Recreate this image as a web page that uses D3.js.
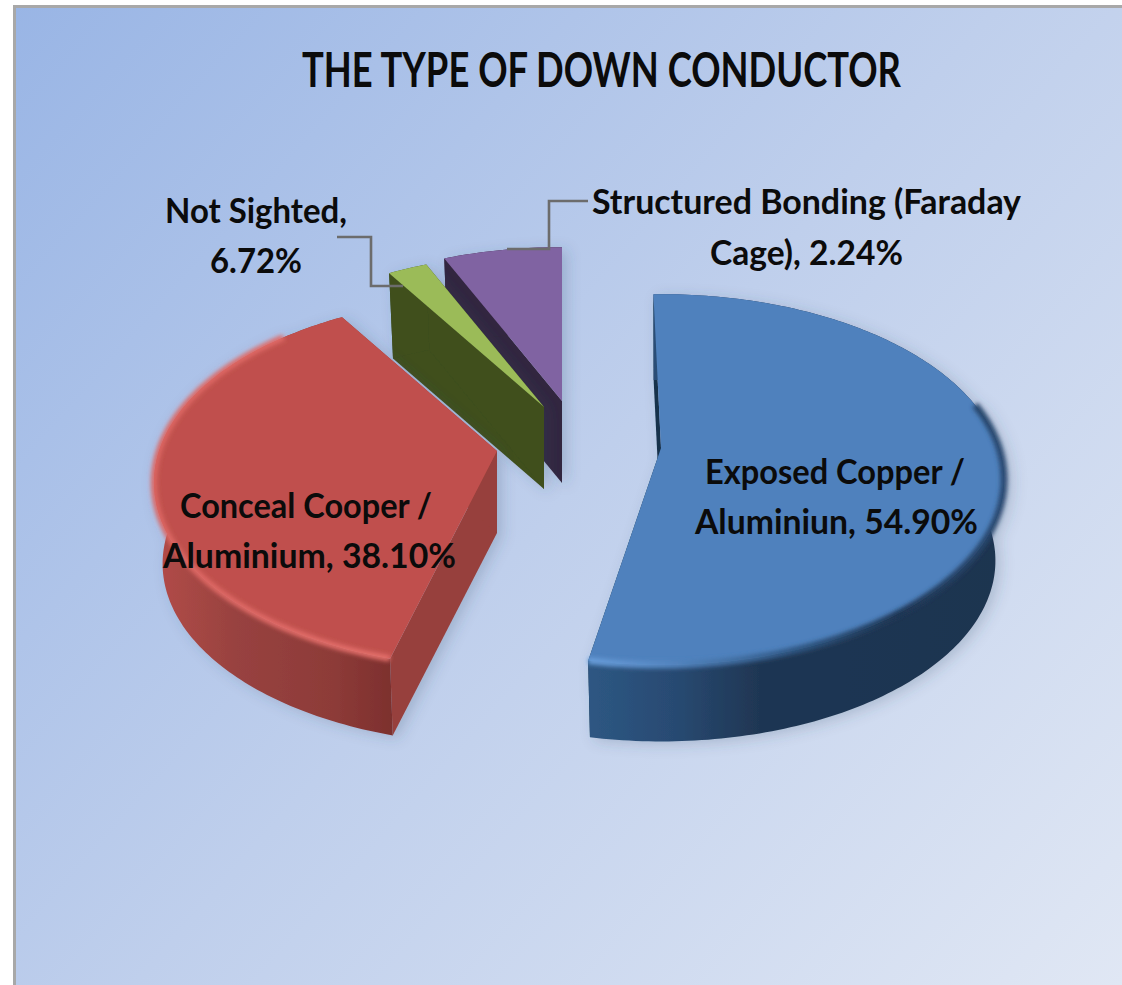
<!DOCTYPE html>
<html><head><meta charset="utf-8">
<script src="https://cdn.jsdelivr.net/npm/d3@7"></script>
<style>html,body{margin:0;padding:0;background:#fff}svg{display:block}</style>
</head><body><div id="c"></div>
<script>
// Data, in drawing order of the pie (clockwise from 12 o'clock)
const categories = ["Exposed Copper / Aluminiun","Conceal Cooper / Aluminium","Not Sighted","Structured Bonding (Faraday Cage)"];
const values = [54.90,38.10,6.72,2.24];
// the wedge sizes in the picture: the smaller wedge carries the "Not Sighted" leader
const wedgeValues = [54.90,38.10,2.24,6.72];
const topColors = ["#4f81bd","#c0504d","#9bbb59","#8064a2"];
const wallColors = ["#16304c","#97403c","#3f4f1f","#33263f"];
const apexes = [[661,448],[497,451],[544,407],[562,401]];
const angleNudges = [[-1.5,-3.5],[1.5,0],[0,0],[0,0]];
const titleText = "THE TYPE OF DOWN CONDUCTOR";

const W=1122,H=985;
const R=338,A=180,K=0.17,DEPTH=82,BOTTOM_SCALE=0.975;
const svg=d3.select("#c").append("svg").attr("width",W).attr("height",H);
const defs=svg.append("defs");

function lin(id,x1,y1,x2,y2,stops){
  const g=defs.append("linearGradient").attr("id",id).attr("gradientUnits","userSpaceOnUse")
    .attr("x1",x1).attr("y1",y1).attr("x2",x2).attr("y2",y2);
  stops.forEach(s=>g.append("stop").attr("offset",s[0]).attr("stop-color",s[1]));
}
lin("bg",13,5,1122,985,[[0,"#99b5e5"],[0.5,"#bfcfec"],[1,"#e0e7f4"]]);
lin("wall0",582,0,1005,0,[[0,"#2e5884"],[0.22,"#284a72"],[0.42,"#1f3653"],[1,"#1e3450"]]);
lin("wall1",150,0,395,0,[[0,"#b44c48"],[0.35,"#984240"],[0.75,"#8d3b38"],[1,"#7c2f2d"]]);
lin("rim0",582,0,1005,0,[[0,"#6a9fdc"],[0.2,"#5587c2"],[0.5,"#2f5783"],[0.75,"#1f3755"],[1,"#2a4a72"]]);
lin("rim1",150,0,395,0,[[0,"#dc6662"],[1,"#e4706c"]]);
const blur=defs.append("filter").attr("id","soft").attr("x","-10%").attr("y","-10%").attr("width","120%").attr("height","120%");
blur.append("feGaussianBlur").attr("stdDeviation",2.2);
const sh=defs.append("filter").attr("id","shadow").attr("x","-20%").attr("y","-20%").attr("width","140%").attr("height","140%");
sh.append("feDropShadow").attr("dx",5).attr("dy",3).attr("stdDeviation",7).attr("flood-color","#3a4a66").attr("flood-opacity",0.22);

svg.append("rect").attr("x",14.5).attr("y",6.5).attr("width",W).attr("height",H)
  .attr("fill","url(#bg)").attr("stroke","#a8a8a8").attr("stroke-width",3);

const arcs=d3.pie().sort(null).value(d=>d)(wedgeValues).map((a,i)=>({
  i,start:a.startAngle+angleNudges[i][0]*Math.PI/180,end:a.endAngle+angleNudges[i][1]*Math.PI/180
}));
const line=d3.line();

function rim(i,t,low){
  const u=Math.sin(t),v=Math.cos(t),d=1+K*v,[ax,ay]=apexes[i];
  const s=low?BOTTOM_SCALE:1;
  return [ax+s*R*u/d, ay-s*A*v/d+(low?DEPTH:0)];
}
function arcPts(i,a,b,low){
  const n=Math.max(8,Math.ceil(Math.abs(b-a)*60));
  return d3.range(n+1).map(k=>rim(i,a+(b-a)*k/n,low));
}
const layer=svg.append("g");
[3,2,1,0].forEach(i=>{
  const a=arcs[i],[ax,ay]=apexes[i];
  const g=layer.append("g").attr("filter","url(#shadow)");
  const wallFill=i<2?`url(#wall${i})`:wallColors[i];
  const lowApex=[ax,ay+DEPTH];
  // cut faces
  [a.start,a.end].forEach((t)=>{
    g.append("path").attr("d",line([[ax,ay],rim(i,t,false),rim(i,t,true),lowApex])+"Z").attr("fill",wallColors[i]);
  });
  // outer wall
  g.append("path").attr("d",line(arcPts(i,a.start,a.end,false).concat(arcPts(i,a.end,a.start,true)))+"Z").attr("fill",wallFill);
  // top face
  g.append("path").attr("d",line([[ax,ay]].concat(arcPts(i,a.start,a.end,false)))+"Z").attr("fill",topColors[i]);
  // bevel highlight on the front rim
  if(i<2){
    const from=i===0?Math.PI*0.42:a.start, to=i===0?a.end:Math.PI*1.75;
    g.append("path").attr("d",line(arcPts(i,from,to,false))).attr("fill","none")
      .attr("stroke",`url(#rim${i})`).attr("stroke-width",i===0?7:6).attr("filter","url(#soft)");
  }
});

// Leader lines
const leaderLeft=[[337,237],[371,237],[371,286],[403,286]];
const leaderRight=[[507,249],[549,249],[549,201],[588,201]];
[leaderLeft,leaderRight].forEach(p=>svg.append("path").attr("d",line(p)).attr("fill","none")
  .attr("stroke","#6c6c6c").attr("stroke-width",2.6));

// Text
const FONT="Lato, 'Open Sans', sans-serif";
function txt(s,x0,x1,y,size){
  svg.append("text").attr("x",x0).attr("y",y).attr("textLength",x1-x0).attr("lengthAdjust","spacingAndGlyphs")
    .attr("font-family",FONT).attr("font-weight",700).attr("font-size",size).attr("fill","#0b0b0b").text(s);
}
txt(titleText,302,901,87,47);
txt("Not Sighted,",165,347,223,35);
txt("6.72%",210,302,273,35);
txt("Structured Bonding (Faraday",592,1021,214,35);
txt("Cage), 2.24%",710,903,265,35);
txt("Exposed Copper /",705,965,484,35);
txt("Aluminiun, 54.90%",695,978,534,35);
txt("Conceal Cooper /",180,432,518,35);
txt("Aluminium, 38.10%",163,456,568,35);
</script></body></html>
